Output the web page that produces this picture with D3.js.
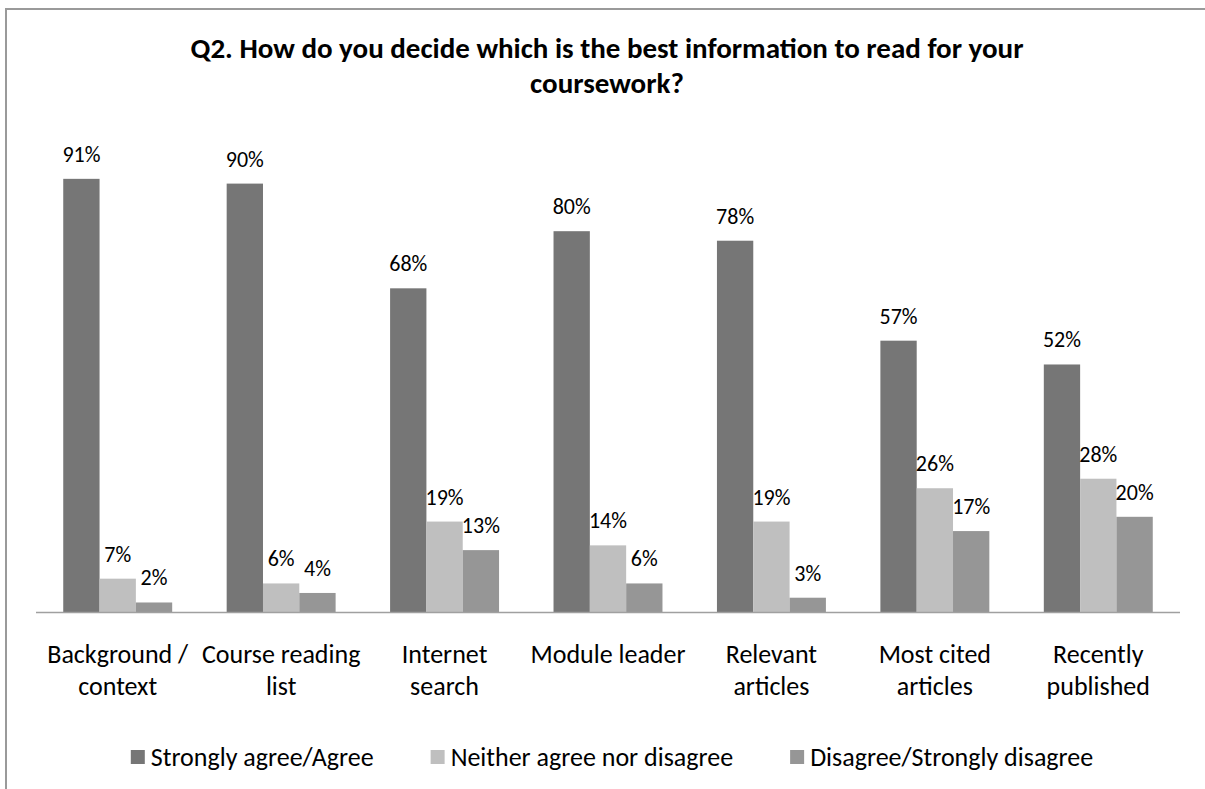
<!DOCTYPE html>
<html>
<head>
<meta charset="utf-8">
<script src="https://cdn.jsdelivr.net/npm/d3@7"></script>
<style>
  html, body { margin: 0; padding: 0; background: #fff; }
  svg { display: block; font-family: Calibri, Carlito, Lato, sans-serif; }
</style>
</head>
<body>
<div id="chart"></div>
<script>
// Survey question Q2: grouped bars, three answer groups per source
const categories = [
  ["Background /", "context"],
  ["Course reading", "list"],
  ["Internet", "search"],
  ["Module leader"],
  ["Relevant", "articles"],
  ["Most cited", "articles"],
  ["Recently", "published"]
];
const seriesNames = ["Strongly agree/Agree", "Neither agree nor disagree", "Disagree/Strongly disagree"];
const agree    = [0.91, 0.90, 0.68, 0.80, 0.78, 0.57, 0.52];
const neither  = [0.07, 0.06, 0.19, 0.14, 0.19, 0.26, 0.28];
const disagree = [0.02, 0.04, 0.13, 0.06, 0.03, 0.17, 0.20];
const titleLines = ["Q2. How do you decide which is the best information to read for your", "coursework?"];

const seriesValues = [agree, neither, disagree];
const colors = ["#767676", "#bfbfbf", "#969696"];

const width = 1205, height = 789;
const plot = { left: 36, right: 1180, top: 136, bottom: 612 };

const svg = d3.select('#chart').append('svg')
  .attr('width', width)
  .attr('height', height)
  .attr('viewBox', [0, 0, width, height]);

// chart frame (runs off the right and bottom edge like the source)
svg.append('rect')
  .attr('x', 6).attr('y', 9)
  .attr('width', 1220).attr('height', 820)
  .attr('fill', 'none')
  .attr('stroke', '#9a9a9a')
  .attr('stroke-width', 2);

// title
svg.append('g').selectAll('text').data(titleLines).join('text')
  .attr('x', 607)
  .attr('y', (d, i) => 58 + i * 35)
  .attr('text-anchor', 'middle')
  .attr('font-size', 29)
  .attr('font-weight', 700)
  .attr('fill', '#000')
  .text(d => d);

const x0 = d3.scaleBand()
  .domain(d3.range(categories.length))
  .range([plot.left, plot.right])
  .padding(0);

const x1 = d3.scaleBand()
  .domain(d3.range(seriesNames.length))
  .range([0, x0.bandwidth()])
  .paddingInner(0)
  .paddingOuter(0.75);

const y = d3.scaleLinear().domain([0, 1]).range([plot.bottom, plot.top]);

const rows = categories.map((c, i) => ({
  i,
  values: seriesValues.map((s, k) => ({ k, v: s[i] }))
}));

const groups = svg.append('g').selectAll('g').data(rows).join('g')
  .attr('transform', d => `translate(${x0(d.i)},0)`);

groups.selectAll('rect').data(d => d.values).join('rect')
  .attr('x', d => x1(d.k))
  .attr('y', d => y(d.v))
  .attr('width', x1.bandwidth())
  .attr('height', d => y(0) - y(d.v))
  .attr('fill', d => colors[d.k]);

groups.selectAll('text').data(d => d.values).join('text')
  .attr('x', d => x1(d.k) + x1.bandwidth() / 2)
  .attr('y', d => y(d.v) - 17)
  .attr('text-anchor', 'middle')
  .attr('font-size', 22)
  .attr('fill', '#000')
  .text(d => d3.format('.0%')(d.v));

// baseline
svg.append('line')
  .attr('x1', plot.left).attr('x2', plot.right)
  .attr('y1', plot.bottom + 0.5).attr('y2', plot.bottom + 0.5)
  .attr('stroke', '#a0a0a0')
  .attr('stroke-width', 1.5);

// category labels
const catG = svg.append('g').selectAll('text').data(categories).join('text')
  .attr('x', (d, i) => x0(i) + x0.bandwidth() / 2)
  .attr('y', 663)
  .attr('text-anchor', 'middle')
  .attr('font-size', 26)
  .attr('fill', '#000');
catG.selectAll('tspan').data(d => d).join('tspan')
  .attr('x', function () { return this.parentNode.getAttribute('x'); })
  .attr('dy', (d, i) => i === 0 ? 0 : 32)
  .text(d => d);

// legend
const legend = svg.append('g');
const items = legend.selectAll('g').data(seriesNames).join('g');
items.append('rect')
  .attr('x', 0).attr('y', -7)
  .attr('width', 14).attr('height', 14)
  .attr('fill', (d, i) => colors[i]);
items.append('text')
  .attr('x', 20).attr('y', 0)
  .attr('dominant-baseline', 'central')
  .attr('font-size', 26)
  .attr('fill', '#000')
  .text(d => d);
let cx = 0;
items.each(function () {
  d3.select(this).attr('transform', `translate(${cx},0)`);
  cx += this.getBBox().width + 57;
});
const legendW = cx - 57;
legend.attr('transform', `translate(${612 - legendW / 2},757)`);
</script>
</body>
</html>
